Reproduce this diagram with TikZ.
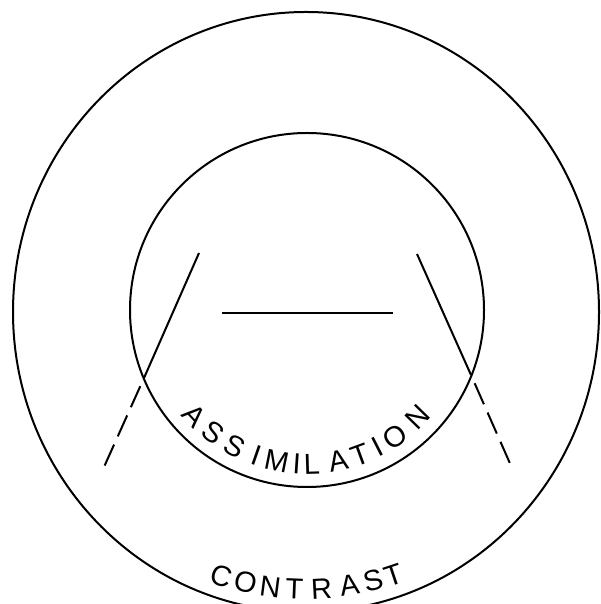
\documentclass[tikz,border=0pt]{standalone}
\usepackage{fontspec}
\newfontfamily\letterfont{Liberation Sans}
\usetikzlibrary{positioning}

\begin{document}
\begin{tikzpicture}[
  x=1pt, y=1pt,
  ring/.style={line width=2pt},
  cut/.style={line width=2pt},
  cutdash/.style={line width=2pt, dash pattern=on 23pt off 9pt, dash phase=23pt},
  letter/.style={inner sep=0pt, font=\letterfont\fontsize{29}{29}\selectfont}
]
\useasboundingbox (0,0) rectangle (601,604);

% Circles
\coordinate (outc) at (306,292);
\coordinate (inc) at (307,294);
\draw[ring] (outc) ellipse [x radius=293, y radius=300];
\draw[ring] (inc) circle [radius=177];

% Cutting lines
\coordinate (lt) at (199,351);
\coordinate (lx) at (144,226);
\coordinate (lb) at (104,137);
\coordinate (rt) at (417,350);
\coordinate (rx) at (471,229);
\coordinate (rb) at (512,136);
\draw[cut] (lt) -- (lx);
\draw[cutdash] (lx) -- (lb);
\draw[cut] (rt) -- (rx);
\draw[cutdash] (rx) -- (rb);

% Bar
\coordinate (bl) at (222,291);
\coordinate (br) at (393,291);
\draw[cut] (bl) -- (br);

% Labels along the circles
\begin{scope}[shift={(inc)}]
  \foreach \ch/\ang [count=\i] in {A/223.2, S/232.7, S/241.9, I/250.8, M/258.6, I/266.2,
                                   L/271.8, A/281.6, T/290.1, I/297.1, O/304.8, N/315.8}
    \node[letter, rotate=\ang+90] (as\i) at (\ang:154) {\ch};
\end{scope}
\begin{scope}[shift={(outc)}]
  \foreach \ch/\ang [count=\i] in {C/252.3, O/257.4, N/262.6, T/267.6,
                                   R/273.2, A/279.0, S/284.0, T/288.4}
    \node[letter, rotate=\ang+90] (co\i) at (\ang:277) {\ch};
\end{scope}
\end{tikzpicture}
\end{document}
